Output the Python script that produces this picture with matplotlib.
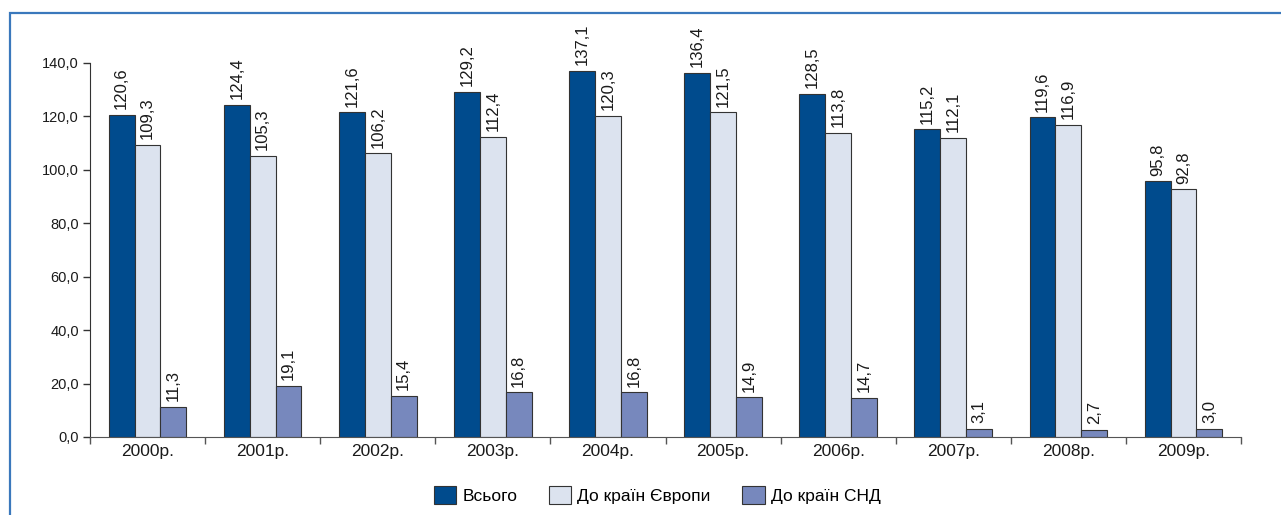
import matplotlib
matplotlib.use("Agg")
import matplotlib.pyplot as plt
from matplotlib.patches import Rectangle
import numpy as np

plt.rcParams['font.family'] = ['Liberation Sans', 'DejaVu Sans']

years = ["2000р.", "2001р.", "2002р.", "2003р.", "2004р.",
         "2005р.", "2006р.", "2007р.", "2008р.", "2009р."]
total = [120.6, 124.4, 121.6, 129.2, 137.1, 136.4, 128.5, 115.2, 119.6, 95.8]
europe = [109.3, 105.3, 106.2, 112.4, 120.3, 121.5, 113.8, 112.1, 116.9, 92.8]
cis = [11.3, 19.1, 15.4, 16.8, 16.8, 14.9, 14.7, 3.1, 2.7, 3.0]
series_names = ["Всього", "До країн Європи", "До країн СНД"]
colors = ["#004b8d", "#dce3ef", "#7788bd"]
y_ticks = [0, 20, 40, 60, 80, 100, 120, 140]

fig = plt.figure(figsize=(12.81, 5.15), dpi=100)
ax = fig.add_axes([90 / 1281, 1 - 437 / 515, 1151 / 1281, 374 / 515])

# blue frame around the chart area
fig.patches.append(Rectangle((10 / 1281, -0.05), 1.2, (515 - 13) / 515 + 0.05,
                             transform=fig.transFigure, fill=False,
                             edgecolor="#3a78bc", linewidth=1.6))

x = np.arange(len(years))
w = 0.225
edge = "#333333"
for i, (vals, col, name) in enumerate(zip([total, europe, cis], colors, series_names)):
    pos = x + (i - 1) * w
    bars = ax.bar(pos, vals, width=w, color=col, edgecolor=edge, linewidth=0.8,
                  label=name)
    for b, v in zip(bars, vals):
        ax.annotate(f"{v:.1f}".replace(".", ","),
                    (b.get_x() + b.get_width() / 2, v),
                    xytext=(0, 4), textcoords="offset points",
                    rotation=90, ha="center", va="bottom",
                    fontsize=12, color="#1a1a1a")

ax.set_xlim(-0.5, len(years) - 0.5)
ax.set_ylim(0, 140)
ax.set_yticks(y_ticks)
ax.set_yticklabels([f"{t:.1f}".replace(".", ",") for t in y_ticks], fontsize=10.5,
                   color="#1a1a1a")
ax.set_xticks(x)
ax.set_xticklabels(years, fontsize=12.5, color="#1a1a1a")
ax.tick_params(axis="x", length=0, pad=5)
ax.set_xticks(np.arange(-0.5, len(years)), minor=True)
ax.tick_params(axis="x", which="minor", length=5, color="#555555", width=1)
ax.tick_params(axis="y", length=5, color="#333333", width=1, pad=3)

for s in ["top", "right"]:
    ax.spines[s].set_visible(False)
ax.spines["left"].set_color("#333333")
ax.spines["bottom"].set_color("#555555")

leg = fig.legend(loc="center", bbox_to_anchor=(0.513, 1 - 495 / 515), ncol=3,
                 frameon=False, fontsize=12.5, handlelength=1.3, handleheight=1.3,
                 columnspacing=1.8, handletextpad=0.35)

fig.savefig("out.png", dpi=100)
